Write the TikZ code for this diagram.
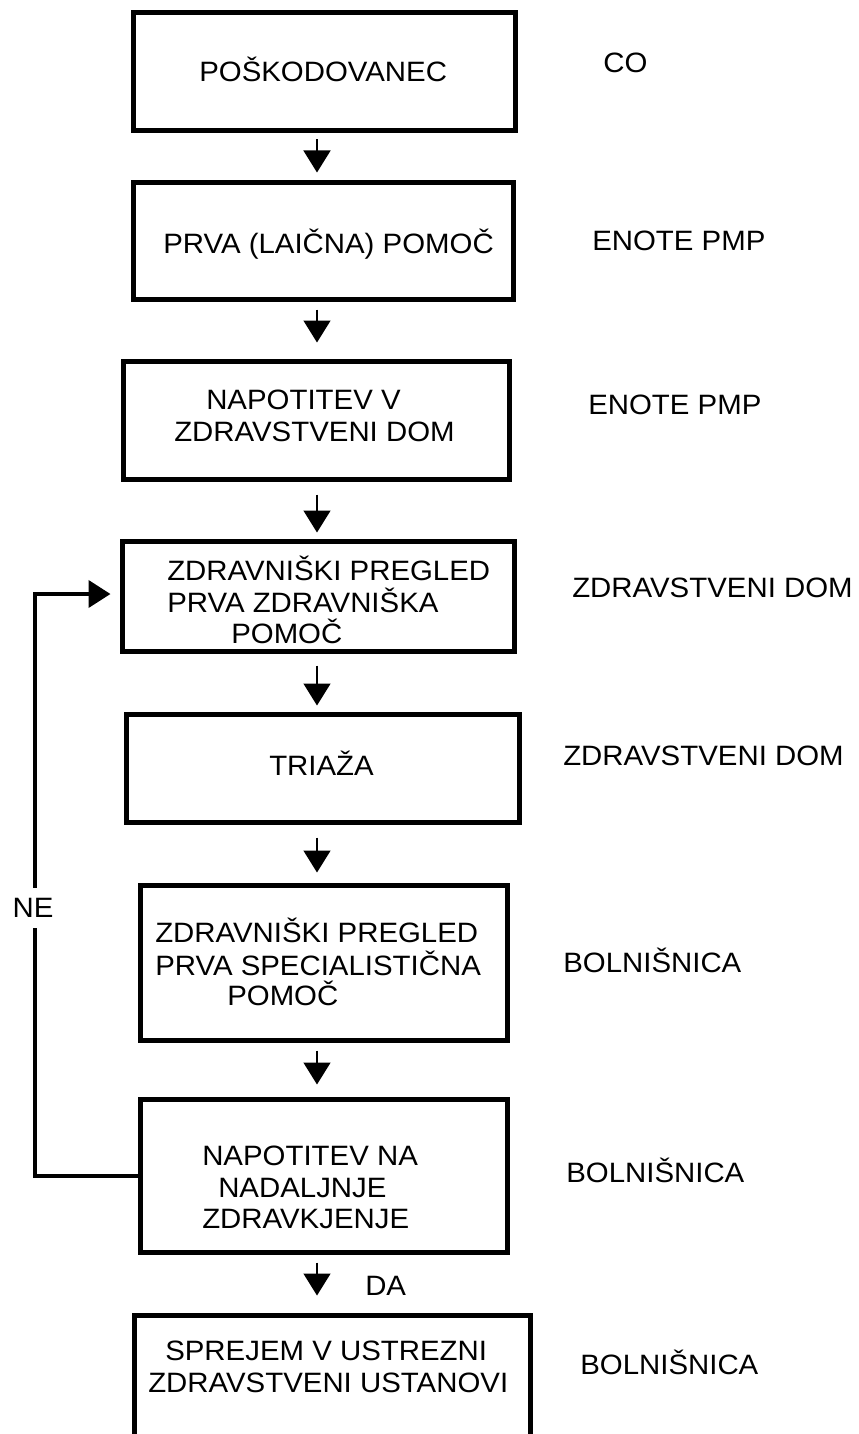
\documentclass[tikz,border=0pt]{standalone}
\usepackage{fontspec}
\setmainfont{Liberation Sans}[FakeStretch=1.05]
\usetikzlibrary{arrows.meta,calc,fit}
\begin{document}
\begin{tikzpicture}[x=0.75pt,y=-0.75pt,
  box/.style={draw, line width=3.75pt, inner sep=0pt},
  txt/.style={anchor=base west, inner sep=0pt, font=\fontsize{21pt}{25pt}\selectfont},
  arr/.style={line width=1.1pt, -{Triangle[width=20.25pt,length=16.5pt]}},
  back/.style={line width=3pt, -{Triangle[width=20.25pt,length=16.5pt]}}]
\useasboundingbox (0,0) rectangle (858,1434);
\fill[white] (0,0) rectangle (858,1434);
\clip (0,0) rectangle (858,1434);

% boxes
\node[box, fit={(133.5,12.5) (515.5,130.5)}] (b1) {};
\node[box, fit={(133.5,182.5) (513.5,299.5)}] (b2) {};
\node[box, fit={(123.5,361.5) (509.5,479.5)}] (b3) {};
\node[box, fit={(122.5,541.5) (514.5,651.5)}] (b4) {};
\node[box, fit={(126.5,714.5) (519.5,822.5)}] (b5) {};
\node[box, fit={(140.5,885.5) (507.5,1040.5)}] (b6) {};
\node[box, fit={(140.5,1099.5) (507.5,1252.5)}] (b7) {};
\node[box, fit={(134.5,1315.5) (530.5,1470)}] (b8) {};

% box texts
\node[txt] (t1) at (199,82) {POŠKODOVANEC};
\node[txt] (t2) at (163,253) {PRVA (LAIČNA) POMOČ};
\node[txt] (t3a) at (206,409) {NAPOTITEV V};
\node[txt] (t3b) at (174,441) {ZDRAVSTVENI DOM};
\node[txt] (t4a) at (167,580) {ZDRAVNIŠKI PREGLED};
\node[txt] (t4b) at (167,612) {PRVA ZDRAVNIŠKA};
\node[txt] (t4c) at (231,643) {POMOČ};
\node[txt] (t5) at (269,775) {TRIAŽA};
\node[txt] (t6a) at (155,942) {ZDRAVNIŠKI PREGLED};
\node[txt] (t6b) at (155,975) {PRVA SPECIALISTIČNA};
\node[txt] (t6c) at (227,1005) {POMOČ};
\node[txt] (t7a) at (202,1165) {NAPOTITEV NA};
\node[txt] (t7b) at (218,1197) {NADALJNJE};
\node[txt] (t7c) at (202,1228) {ZDRAVKJENJE};
\node[txt] (t8a) at (165,1360) {SPREJEM V USTREZNI};
\node[txt] (t8b) at (148,1392) {ZDRAVSTVENI USTANOVI};

% right-hand labels
\node[txt] (r1) at (603,73) {CO};
\node[txt] (r2) at (592,250) {ENOTE PMP};
\node[txt] (r3) at (588,414) {ENOTE PMP};
\node[txt] (r4) at (572,597) {ZDRAVSTVENI DOM};
\node[txt] (r5) at (563,765) {ZDRAVSTVENI DOM};
\node[txt] (r6) at (563,972) {BOLNIŠNICA};
\node[txt] (r7) at (566,1182) {BOLNIŠNICA};
\node[txt] (r8) at (580,1374) {BOLNIŠNICA};
\node[txt] (da) at (365,1295) {DA};

% main arrows
\coordinate (ax) at (317,0);
\draw[arr] ($(b1.south -| ax)+(0,6.5)$) -- ($(b2.north -| ax)+(0,-7.5)$);
\draw[arr] ($(b2.south -| ax)+(0,7.5)$) -- ($(b3.north -| ax)+(0,-16.5)$);
\draw[arr] ($(b3.south -| ax)+(0,12.5)$) -- ($(b4.north -| ax)+(0,-6.5)$);
\draw[arr] ($(b4.south -| ax)+(0,11.5)$) -- ($(b5.north -| ax)+(0,-6.5)$);
\draw[arr] ($(b5.south -| ax)+(0,12.5)$) -- ($(b6.north -| ax)+(0,-10.5)$);
\draw[arr] ($(b6.south -| ax)+(0,7.5)$) -- ($(b7.north -| ax)+(0,-12.5)$);
\draw[arr] ($(b7.south -| ax)+(0,7.5)$) -- ($(b8.north -| ax)+(0,-17.5)$);

% NE loop
\coordinate (lx) at (35,0);
\node[inner sep=0pt, minimum height=30pt, font=\fontsize{21pt}{25pt}\selectfont] (ne) at (33,908) {NE};
\draw[line width=3pt] (b7.west) -| (ne.south -| lx);
\draw[back] (ne.north -| lx) |- ($(b4.west)+(-9.5,-2.5)$);
\end{tikzpicture}
\end{document}
